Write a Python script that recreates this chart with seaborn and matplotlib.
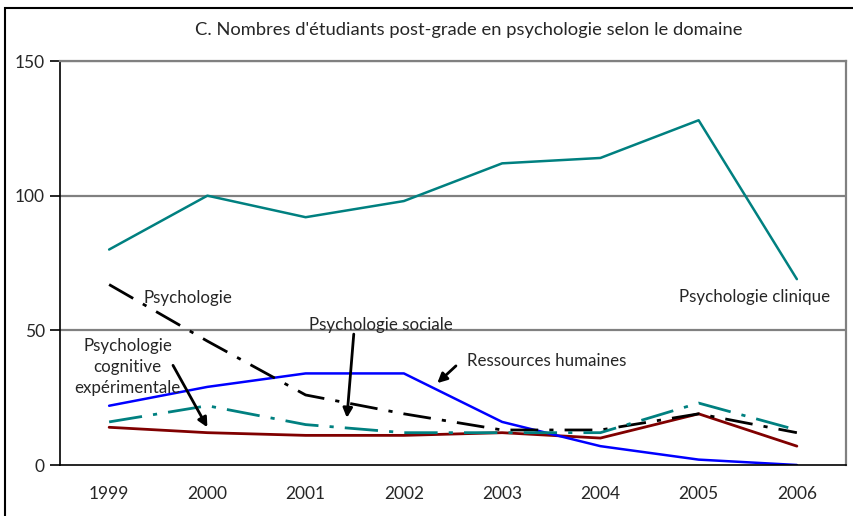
import matplotlib
matplotlib.use("Agg")
import matplotlib.pyplot as plt
from matplotlib.patches import Rectangle
import pandas as pd
import seaborn as sns

# Data
years = ["1999", "2000", "2001", "2002", "2003", "2004", "2005", "2006"]
clinique = [80, 100, 92, 98, 112, 114, 128, 69]
psychologie = [67, 46, 26, 19, 13, 13, 19, 12]
sociale = [16, 22, 15, 12, 12, 12, 23, 13]
ressources = [22, 29, 34, 34, 16, 7, 2, 0]
cognitive = [14, 12, 11, 11, 12, 10, 19, 7]

x_pos = list(range(len(years)))
df = pd.DataFrame({"x": x_pos, "clinique": clinique, "psychologie": psychologie,
                   "sociale": sociale, "ressources": ressources, "cognitive": cognitive})

sns.set_style("white")
plt.rcParams['font.family'] = ['Lato', 'DejaVu Sans']

fig = plt.figure(figsize=(8.54, 5.16), dpi=100)
ax = fig.add_axes([60 / 854, 51 / 516, 786 / 854, 404 / 516])

# gridlines behind the data
for v in [50, 100, 150]:
    ax.axhline(v, color="#808080", lw=1.6, zorder=0)

# Series
sns.lineplot(data=df, x="x", y="cognitive", color="#800000", lw=2, ax=ax)
sns.lineplot(data=df, x="x", y="ressources", color="#0000ff", lw=1.8, ax=ax)
sns.lineplot(data=df, x="x", y="psychologie", color="black", lw=2, ax=ax)
ax.lines[-1].set_dashes([10, 4, 1.5, 4])
sns.lineplot(data=df, x="x", y="sociale", color="#008080", lw=2, ax=ax)
ax.lines[-1].set_dashes([12, 4, 1.5, 4])
sns.lineplot(data=df, x="x", y="clinique", color="#008080", lw=1.8, ax=ax)

ax.set_xlim(-0.5, 7.5)
ax.set_ylim(0, 150)
ax.set_xlabel("")
ax.set_ylabel("")

ax.set_xticks(x_pos)
ax.set_xticklabels(years, fontsize=12.5)
ax.set_xticks([p + 0.5 for p in range(-1, 8)], minor=True)
ax.tick_params(axis="x", which="major", length=0, pad=15)
ax.tick_params(axis="x", which="minor", length=6, width=1.2, color="black", direction="out")
ax.set_yticks([0, 50, 100, 150])
ax.set_yticklabels(["0", "50", "100", "150"], fontsize=12.5)
ax.tick_params(axis="y", length=7, width=1.2, color="black", direction="out", pad=4, left=True)

ax.spines["left"].set_color("black")
ax.spines["bottom"].set_color("black")
ax.spines["left"].set_linewidth(1.2)
ax.spines["bottom"].set_linewidth(1.2)
ax.spines["top"].set_color("#808080")
ax.spines["right"].set_color("#808080")
ax.spines["top"].set_linewidth(1.6)
ax.spines["right"].set_linewidth(1.6)

# Annotations
arrow = dict(arrowstyle="-|>", lw=2, color="black", mutation_scale=14, shrinkA=0, shrinkB=0)
fs = 12.2
ax.text(0.345, 62, "Psychologie", fontsize=fs, ha="left", va="center")
ax.text(6.57, 62.4, "Psychologie clinique", fontsize=fs, ha="center", va="center")
ax.text(2.77, 52, "Psychologie sociale", fontsize=fs, ha="center", va="center")
ax.annotate("", xy=(2.42, 17.5), xytext=(2.49, 48.6), arrowprops=arrow)
ax.text(0.19, 36.4, "Psychologie\ncognitive\nexpérimentale", fontsize=fs, ha="center",
        va="center", linespacing=1.35)
ax.annotate("", xy=(1.0, 14), xytext=(0.65, 37), arrowprops=arrow)
ax.text(3.64, 38.6, "Ressources humaines", fontsize=fs, ha="left", va="center")
ax.annotate("", xy=(3.34, 30.4), xytext=(3.53, 36.8), arrowprops=arrow)

fig.text(469 / 854, 1 - 30 / 516, "C. Nombres d'étudiants post-grade en psychologie selon le domaine",
         fontsize=13.2, ha="center", va="center")

# outer frame of the chart area
fig.patches.append(Rectangle((5 / 854, -0.05), 1.1, 1 - 8 / 516 + 0.05, transform=fig.transFigure,
                             fill=False, edgecolor="black", lw=1.5))

fig.savefig("out.png", dpi=100)
